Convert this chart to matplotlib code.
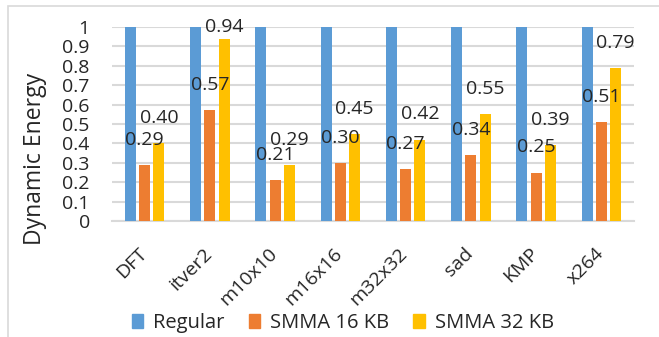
import numpy as np
import matplotlib
matplotlib.use("Agg")
import matplotlib.pyplot as plt
import matplotlib.patches as patches
from matplotlib.transforms import ScaledTranslation

# dynamic energy normalised to the regular configuration
benchmarks = ["DFT", "itver2", "m10x10", "m16x16", "m32x32", "sad", "KMP", "x264"]
regular = [1, 1, 1, 1, 1, 1, 1, 1]
smma_16kb = [0.29, 0.57, 0.21, 0.30, 0.27, 0.34, 0.25, 0.51]
smma_32kb = [0.40, 0.94, 0.29, 0.45, 0.42, 0.55, 0.39, 0.79]
series_names = ["Regular", "SMMA 16 KB", "SMMA 32 KB"]
yticks = [0, 0.1, 0.2, 0.3, 0.4, 0.5, 0.6, 0.7, 0.8, 0.9, 1]

colors = ["#5B9BD5", "#ED7D31", "#FFC000"]
text_color = "#262626"

plt.rcParams["font.family"] = ["Open Sans", "DejaVu Sans"]
plt.rcParams["text.color"] = text_color
fs = 14

fig = plt.figure(figsize=(6.59, 3.37), dpi=100)
ax = fig.add_axes([112 / 659, 1 - 221 / 337, 522 / 659, 194 / 337])

x = np.arange(len(benchmarks))
width = 0.169
step = 0.219
series = [regular, smma_16kb, smma_32kb]
bars = []
for i, (vals, name) in enumerate(zip(series, series_names)):
    b = ax.bar(x + (i - 1) * step, vals, width, color=colors[i], label=name, zorder=3)
    bars.append(b)

# value labels only on the SMMA bars, kept inside the plot area
label_gap = 0.129
for b in bars[1:]:
    for rect in b:
        h = rect.get_height()
        ax.text(rect.get_x() + rect.get_width() / 2, min(h + label_gap, 1.0), "%.2f" % h,
                ha="center", va="center", fontsize=fs, color=text_color, zorder=4)

ax.set_xlim(-0.5, len(benchmarks) - 0.5)
ax.set_ylim(0, 1)
ax.set_yticks(yticks)
ax.set_yticklabels(["%g" % t for t in yticks])
ax.yaxis.grid(True, color="#D9D9D9", linewidth=1.5, zorder=0)
ax.set_axisbelow(True)
for s in ["top", "right", "left"]:
    ax.spines[s].set_visible(False)
ax.spines["bottom"].set_color("#D9D9D9")
ax.spines["bottom"].set_linewidth(1.5)
ax.tick_params(axis="y", length=0, pad=16, labelsize=fs, colors=text_color)
ax.tick_params(axis="x", length=0, pad=4, labelsize=fs, colors=text_color)
ax.set_xticks(x)
ax.set_xticklabels(benchmarks, rotation=45, ha="right", va="top", rotation_mode="anchor")
shift = ScaledTranslation(-7 / 100, -18 / 100, fig.dpi_scale_trans)
for lab in ax.get_xticklabels():
    lab.set_transform(lab.get_transform() + shift)

fig.text(35 / 659, 1 - 159 / 337, "Dynamic Energy", rotation=90,
         ha="center", va="center", fontsize=16.5, color=text_color)

handles = [patches.Patch(color=c) for c in colors]
fig.legend(handles, series_names, loc="center", bbox_to_anchor=(343 / 659, 1 - 323 / 337),
           ncol=3, frameon=False, fontsize=14.5, handlelength=0.55, handleheight=0.65,
           handletextpad=0.5, columnspacing=1.2, borderaxespad=0)

# light chart border
fig.patches.append(patches.Rectangle((8 / 659, -0.1), 1.2, 1 - 6 / 337 + 0.1,
                                     transform=fig.transFigure, fill=False,
                                     edgecolor="#D9D9D9", linewidth=1.2))

fig.savefig("out.png", dpi=100)
